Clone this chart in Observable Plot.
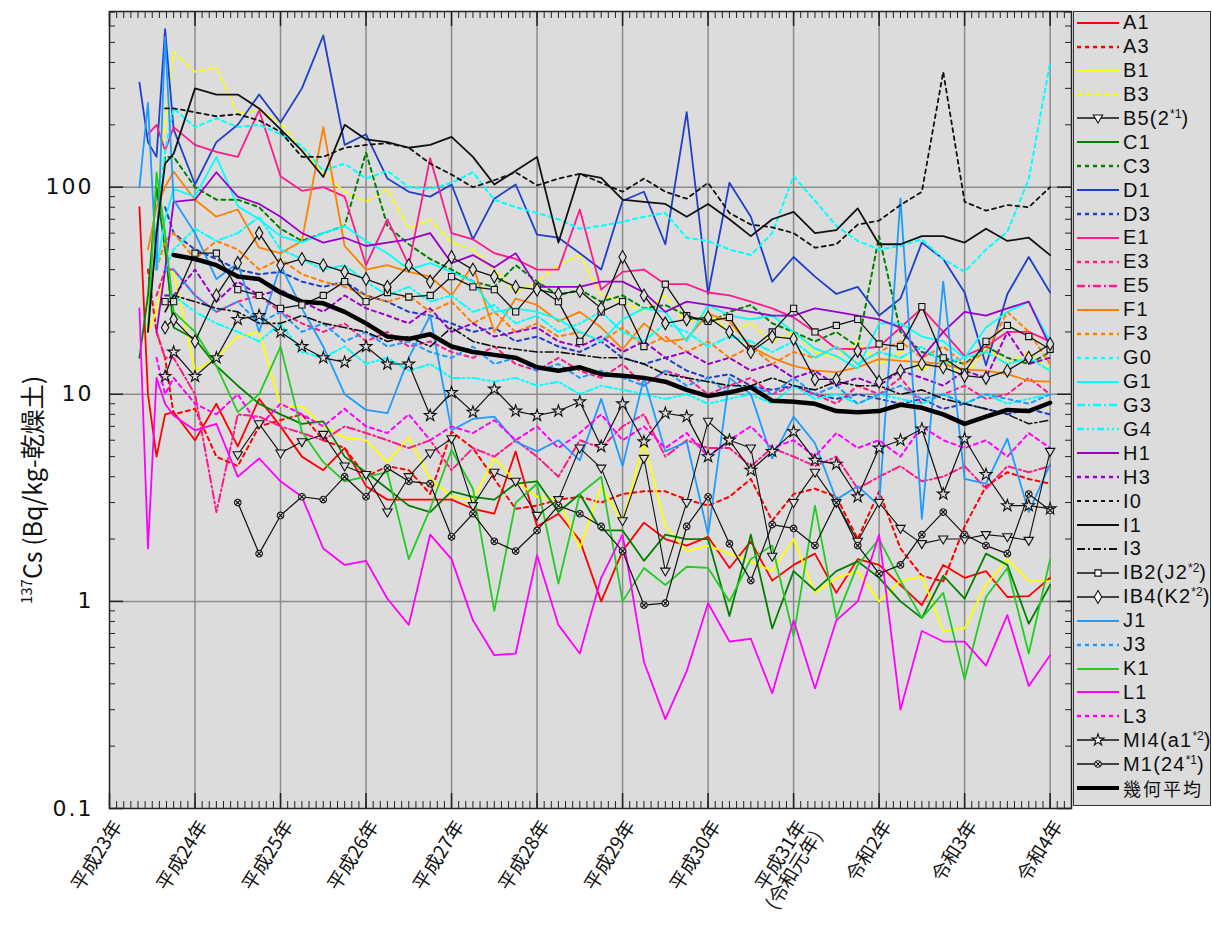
<!DOCTYPE html>
<html><head><meta charset="utf-8">
<script src="https://cdn.jsdelivr.net/npm/d3@7"></script>
<script src="https://cdn.jsdelivr.net/npm/@observablehq/plot@0.6"></script>
<style>
body{margin:0;background:#fff;}
#wrap{position:relative;width:1212px;height:925px;overflow:hidden;}
#chart{position:absolute;left:0;top:0;}
#legend{position:absolute;left:1073px;top:11px;width:138px;height:795px;background:#dcdcdc;border:1px solid #333;box-sizing:border-box;}
.item{position:absolute;left:2px;height:24px;display:flex;align-items:center;font-family:"Liberation Sans",Arial,sans-serif;font-size:20px;letter-spacing:1.2px;color:#111;white-space:nowrap;}
.item svg{margin-right:3px;flex:none;}
.item sup{font-size:12px;letter-spacing:0;vertical-align:7px;line-height:0;}
.item.cjk{font-family:"Noto Sans CJK JP";letter-spacing:2px;font-size:18px;}
</style></head><body>
<div id="wrap"><div id="chart"></div><div id="legend"></div></div>
<script>
// ---- time axis (decimal years) ----
const T = [2011.35,2011.45,2011.55,2011.65,2011.75,2012,2012.25,2012.5,2012.75,2013,2013.25,2013.5,2013.75,2014,2014.25,2014.5,2014.75,2015,2015.25,2015.5,2015.75,2016,2016.25,2016.5,2016.75,2017,2017.25,2017.5,2017.75,2018,2018.25,2018.5,2018.75,2019,2019.25,2019.5,2019.75,2020,2020.25,2020.5,2020.75,2021,2021.25,2021.5,2021.75,2022];
const yearTicks = [2011,2012,2013,2014,2015,2016,2017,2018,2019,2020,2021,2022];
const yearLabels = ["平成23年","平成24年","平成25年","平成26年","平成27年","平成28年","平成29年","平成30年","平成31年\n(令和元年)","令和2年","令和3年","令和4年"];
const yMajor = [0.1,1,10,100];
const yMajorLabels = ["0.1","1","10","100"];

// ---- series values (Bq/kg) ----
const A1 = [80,10,5,8, 8.2,6,9,5.6,9.5,7,5,4.3,5.5,3.6,3.1,3.1,3.1,3.1,2.8,2.65,5.3,2.3,2.65,1.97,1.0,1.75,2.4,2.0,1.86,2.05,1.45,1.95,1.26,1.5,1.7,1.1,1.6,1.5,1.2,0.96,1.5,1.3,1.4,1.05,1.06,1.3];
const A3 = [null,40,20,15, 8,8.5,5,4.5,7,7.5,8,6,5.5,4,4.5,4.3,3.3,6.6,5.5,3.9,2.8,2.9,3.1,3.2,3.0,3.3,3.4,3.4,3.1,2.9,3.2,3.9,2.45,3.3,3.5,3.2,2.0,3.4,1.8,1.33,1.25,2.3,3.6,4.2,3.9,3.7];
const B1 = [null,20,25,40, 39,13,15,19,20,8.8,8.8,7,6.2,6.0,4.7,6.2,3.9,3.2,3.1,4.9,3.8,3.2,3.1,1.8,3.6,2.4,5.9,2.3,1.75,1.86,1.7,1.56,1.4,2.0,1.1,1.3,1.4,1.0,1.26,1.32,0.72,0.74,1.2,1.6,1.26,1.25];
const B3 = [null,null,100,200, 450,360,380,225,235,205,150,118,95,85,98,63,70,54,50,40,31,35,42,47,30,28,25,30,22,25,20,22,18,20,16,15,18,14,16,13,15,12,17,14,16,13];
const B5 = [null,null,null,null, null,null,null, 5.1,7.2,5.2,5.9,6.4,4.5,4.1,2.7,4.0,5.2,6.1,2.9,4.2,3.8,2.6,3.1,5.5,4.4,2.45,4.9,1.4,3.0,7.4,6.0,5.5,1.65,3.0,4.2,3.0,1.95,3.0,2.25,1.9,2.0,2.0,2.1,2.05,1.97,5.3];
const C1 = [15,30,100,50, 21,18.5,13.7,11,9,8,7.2,7.4,5.0,4.2,3.5,2.9,2.7,3.4,3.2,3.1,3.7,3.8,2.7,3.3,2.2,2.2,1.57,2.1,2.0,2.0,0.85,2.1,0.74,1.4,1.13,1.4,1.56,1.3,1.0,0.83,1.33,1.03,1.7,1.5,0.78,1.2];
const C3 = [null,null,60,140, 140,100,87,87,80,63,55,60,65,147,65,53,45,40,35,33,42,35,30,32,28,30,26,27,24,22,25,27,22,20,18,20,17,58,20,16,15,14,17,15,14,16];
const D1 = [320,165,140,580, 190,103,165,200,280,205,300,540,160,180,110,95,90,103,56,88,103,59,57,48,40,86,95,53,230,30.5,105,72,35,46,37,30.5,33,24,29,54,45,31,13.8,30.5,46,31];
const D3 = [null,null,null,80, 60,50,45,40,38,39,35,33,35,30,28,25,24,22,20,21,18,19,17,16,18,15,14,15,13,12,12.5,11,10.5,11,10,9.5,10,9.5,9,9.5,8.5,9,8.5,8,8.5,8];
const E1 = [null,180,200,150, 195,160,148,140,235,113,96,100,90,42,70,42,138,60,56,48,45,40,40,78,32,39,40,34,34,31,30,28,26,23.5,20,16.6,16.5,17,21,26,20,15.3,17,20,20,18];
const E3 = [null,null,30,40, 40,30,25,28,30,25,22,20,22,18,20,17,18,16,15,17,14,13,15,13,12,14,11,13,12,10,11,12,10,11,10,9,11,10,12,9,10,11,9.5,10,12,10];
const E5 = [null,null,20,15, 15,10,2.7,8,7.8,7,6.5,6,7,6.5,6,5.5,6,4.3,5.5,5,6,5,4,6,5.5,7,8,5,6,5.5,5.5,4.5,5.5,5,4.5,5,3.5,4,4.5,3.8,4,4.5,3.5,4.5,4.2,4.5];
const F1 = [null,50,80,100, 119,87,72,78,51,48,55,195,52,40,42,39,37,30,42,20,29,27,22.5,25,21,16.5,22,18,18.5,24.5,22.5,17,15,13.7,13,12.8,13.5,14.8,14.5,14.3,14,13.2,13,12.5,11.6,11.5];
const F3 = [null,null,40,55, 60,45,55,50,40,45,38,35,33,30,28,30,25,28,22,25,20,22,19,20,18,21,17,19,16,18,15,17,14,16,15,17,14,16,18,15,17,14,16,25,20,14];
const G0 = [null,null,60,150, 240,195,215,195,200,180,158,120,130,110,120,100,98,105,118,87,80,75,70,63,65,68,72,75,57,55,50,47,60,113,86,65,55,50,52,56,45,39,50,61,109,400];
const G1 = [null,null,40,70, 98,90,140,81,70,58,54,60,65,55,48,40,43,39,35,25,26,25,23,20,18,23,26,25,18,27,24,23,24,20,16.6,15.3,13.3,22,22,19,18,15,21,25,28,18];
const G3 = [null,null,null,40, 50,63,55,60,72,50,45,40,42,35,30,33,28,30,25,27,22,24,20,22,25,20,18,22,20,17,19,18,16,18,15,17,14,16,15,17,14,15,16,14,15,13];
const G4 = [null,null,null,30, 30,25,22,20,18,22,16,15,17,14,15,13,14,12,12,11.5,12,11,11.5,10,11,10.5,10,9.5,10,9,9.5,10,9,11,9.5,10,9,10,9.5,9,10,9,10,9,9.5,10];
const H1 = [null,null,20,40, 85,87,118,90,83,72,60,54,57,52,54,56,60,43,47,41,48,33,33,33,35,35,31,25,28,27,26,25,24,24,26,25,24,23,21,15,20,25,24,26,28,17];
const H3 = [null,null,null,30, 30,40,28,35,30,32,28,25,30,26,24,22,26,20,22,19,20,21,18,17,19,16,18,15,16,14,15,13,14,12,13,11,12,11,13,12,11,13,12,20,14,15];
const I0 = [null,null,null,240, 240,230,220,225,210,185,140,140,155,160,163,155,130,115,100,108,118,102,110,116,105,95,110,95,88,105,75,66,64,60,51,53,66,69,82,95,360,85,77,82,80,100];
const I1 = [null,20,60,130, 145,300,280,280,240,190,150,112,200,170,165,155,160,175,140,103,120,140,54,116,111,87,85,83,72,83,70,58,70,76,60,62,79,53,53,58,58,54,63,55,57,47];
const I3 = [null,null,null,25, 30,28,26,25,22,22,24,22,21,20,18,19,17,21,18,17,16.5,16,16,15.5,15,15,14,12.5,12,11.5,11,11,12,11,10.5,11.5,11,11,10,10.5,9.5,9,8.5,8,7.2,7.5];
const IB2 = [null,null,null,28, 28,48,48,32,30,26,27,30,35,28,31,29.5,30,37,33,32,25,33,28,18,25,28,17,34,24,22.5,23.5,16.5,20,26,20,21.5,23,17.5,17,26.5,15,12.8,18,21.5,19,16.5];
const IB4 = [null,null,null,21, 23,18,30,43,60,42,45,42,39,36,33,42,35,46,40,37,33,32,30.5,31.5,26,46,30,22,23,23.5,20,16,19,18.5,11.8,11.8,16.2,11.5,13,14,13.5,12.3,12,13,15,17.5];
const J1 = [100,255,40,530, 87,60,36,43,20,42,26,17,10,8.4,8.1,15,24,6.7,7.6,7.8,5.9,5.3,6.0,4.8,9.5,4.5,12,5.3,5.9,2.1,12,10,4.9,7.8,5.8,3.1,3.6,2.9,88,2.5,35,3.9,3.7,6.1,2.7,4.6];
const J3 = [null,null,null,40, 40,30,25,28,22,25,20,22,18,20,17,18,16,15,17,14,15,13,14,12,13,12,11,13,11,12,10,11,10,12,10,11,9,10,11,9.5,10,9,10,9.5,9,10];
const K1 = [null,20,118,60, 25,20,13.7,8.2,10,17,6.6,4.7,3.8,4.0,4.2,1.6,2.8,5.4,3.5,0.9,3.0,3.7,1.22,3.3,4.0,1.0,1.45,1.2,1.47,1.45,1.0,1.6,1.86,0.68,2.9,0.83,1.5,2.0,1.26,0.83,1.1,0.42,1.05,1.45,0.56,1.6];
const L1 = [26,1.8,12,9, 7.9,6.7,7.2,4.0,4.9,3.8,3.2,1.8,1.5,1.57,1.03,0.77,2.1,1.6,0.81,0.55,0.56,1.67,0.77,0.56,1.3,2.1,0.51,0.27,0.46,0.98,0.64,0.66,0.36,0.81,0.38,0.81,1.0,2.1,0.3,0.72,0.64,0.64,0.49,0.86,0.39,0.55];
const L3 = [null,null,15,10, 12,9,8,10,7,9,8,7,8.5,7,6.5,8,6,7,6.5,7.5,6,7,5.5,6.5,8,6,7,5.5,6.5,5,6,7,5.5,6,5,6.5,5.5,6,5,7,6,5.5,6,5,6.5,5.5];
const MI4 = [null,null,null,12.2, 16,12.2,15,23,24,20,17,15,14.3,17,14,14,7.9,10.2,8.2,10.6,8.3,7.9,8.3,9.2,5.6,9.0,5.9,8.1,7.8,5.0,6.0,4.3,5.3,6.6,4.8,4.6,3.2,5.5,6.0,6.8,3.3,6.1,4.1,2.9,2.9,2.8];
const M1 = [null,null,null,null, null,null,null, 3.0,1.7,2.6,3.2,3.1,4.0,3.2,4.4,3.8,3.7,2.05,2.65,1.95,1.75,2.2,2.9,2.65,2.3,1.75,0.96,0.98,2.3,3.2,1.9,1.26,2.35,2.25,1.86,3.0,1.86,1.36,1.5,2.1,2.7,2.1,1.86,1.7,3.3,2.75];
const GM = [null,null,null,null, 47,45,42,37,36,31,28,27.5,25,22,19,18.5,19.5,17,16,15.5,15,13.5,13,13.5,12.5,12.3,12,11.5,10.5,9.8,10.2,10.8,9.3,9.2,9.0,8.3,8.2,8.3,8.9,8.6,8.0,7.2,7.8,8.4,8.3,9.1];

const seriesNames = ["A1","A3","B1","B3","B5","C1","C3","D1","D3","E1","E3","E5","F1","F3","G0","G1","G3","G4","H1","H3","I0","I1","I3","IB2","IB4","J1","J3","K1","L1","L3","MI4","M1","GM"];
const seriesValues = [A1,A3,B1,B3,B5,C1,C3,D1,D3,E1,E3,E5,F1,F3,G0,G1,G3,G4,H1,H3,I0,I1,I3,IB2,IB4,J1,J3,K1,L1,L3,MI4,M1,GM];
const legendLabels = ["A1","A3","B1","B3","B5(2<sup>*1</sup>)","C1","C3","D1","D3","E1","E3","E5","F1","F3","G0","G1","G3","G4","H1","H3","I0","I1","I3","IB2(J2<sup>*2</sup>)","IB4(K2<sup>*2</sup>)","J1","J3","K1","L1","L3","MI4(a1<sup>*2</sup>)","M1(24<sup>*1</sup>)","幾何平均"];

// ---- styles ----
const DOT = "4,4", DASHDOT = "8,3,2,3", DASHDOTDOT = "7,3,2,3,2,3", DASH = "5,4";
const triDown = {draw(ctx, size){ const r = Math.sqrt(size/Math.PI)*1.3; ctx.moveTo(-r,-r*0.65); ctx.lineTo(r,-r*0.65); ctx.lineTo(0,r*1.05); ctx.closePath(); }};
const circX = {draw(ctx, size){ const r = Math.sqrt(size/Math.PI); ctx.moveTo(r,0); ctx.arc(0,0,r,0,2*Math.PI); const a=r*0.7; ctx.moveTo(-a,-a); ctx.lineTo(a,a); ctx.moveTo(-a,a); ctx.lineTo(a,-a); }};
const style = {
  A1:{c:"#ff0000",w:1.8}, A3:{c:"#ff0000",w:2,d:DOT},
  B1:{c:"#ffff00",w:1.8}, B3:{c:"#ffff00",w:1.8,d:DASH},
  B5:{c:"#111",w:1.1,sym:triDown,r:3.6},
  C1:{c:"#008000",w:1.8}, C3:{c:"#008000",w:2,d:DOT},
  D1:{c:"#1f3fc8",w:1.8}, D3:{c:"#1f3fc8",w:2,d:DOT},
  E1:{c:"#ff1a8c",w:1.8}, E3:{c:"#ff1a8c",w:2,d:DOT}, E5:{c:"#ff1a8c",w:2,d:DASHDOT},
  F1:{c:"#ff8000",w:1.8}, F3:{c:"#ff8000",w:2,d:DOT},
  G0:{c:"#00ffff",w:2,d:DOT}, G1:{c:"#00ffff",w:1.8}, G3:{c:"#00ffff",w:2,d:DASHDOT}, G4:{c:"#00ffff",w:2,d:DASHDOTDOT},
  H1:{c:"#9900cc",w:1.8}, H3:{c:"#9900cc",w:2,d:DOT},
  I0:{c:"#111",w:1.8,d:DOT}, I1:{c:"#111",w:1.8}, I3:{c:"#111",w:1.6,d:DASHDOT},
  IB2:{c:"#111",w:1.3,sym:"square",r:3.5}, IB4:{c:"#111",w:1.3,sym:"diamond",r:3.9},
  J1:{c:"#1e9bff",w:1.8}, J3:{c:"#1e9bff",w:2,d:DOT},
  K1:{c:"#22cc22",w:1.8},
  L1:{c:"#ff00ff",w:1.8}, L3:{c:"#ff00ff",w:2,d:DOT},
  MI4:{c:"#111",w:1.2,sym:"star",r:3.7}, M1:{c:"#111",w:1.2,sym:circX,r:3.3},
  GM:{c:"#000",w:4.5}
};

// ---- build rows ----
const rows = {};
seriesNames.forEach((n, si) => {
  rows[n] = T.map((t, i) => ({name: n, t, v: seriesValues[si][i]})).filter(d => d.v != null);
});

const monthTicks = d3.range(0, 136).map(i => 2011 + i/12).filter(v => v <= 2022.26);
const yMinor = [];
[0.1,1,10,100].forEach(b => { for (let k = 2; k <= 9; k++) if (b*k < 710) yMinor.push(b*k); });

const W = 1072, H = 925, ML = 109, MR = 1, MT = 11, MB = 117;
const FW = W - ML - MR, FH = H - MT - MB;

const drawOrder = ["A1","A3","B1","B3","C1","C3","D1","D3","E1","E3","E5","F1","F3","G0","G1","G3","G4","H1","H3","J1","J3","K1","L1","L3","I0","I1","I3","B5","IB2","IB4","MI4","M1","GM"];
const lineMarks = [];
drawOrder.forEach(n => {
  const s = style[n];
  lineMarks.push(Plot.line(rows[n], {x:"t", y:"v", stroke:s.c, strokeWidth:s.w, strokeDasharray:s.d, clip:true}));
});
drawOrder.forEach(n => {
  const s = style[n];
  if (s.sym) lineMarks.push(Plot.dot(rows[n], {x:"t", y:"v", symbol:s.sym, r:s.r, stroke:"#111", strokeWidth:1.1, fill:"#dcdcdc"}));
});

const chart = Plot.plot({
  width: W, height: H,
  marginLeft: ML, marginRight: MR, marginTop: MT, marginBottom: MB,
  style: {background: "transparent", overflow: "visible"},
  x: {type: "linear", domain: [2011, 2022.25], axis: null},
  y: {type: "log", domain: [0.1, 705]},
  marks: [
    Plot.frame({fill: "#dcdcdc"}),
    Plot.ruleX(yearTicks.slice(1), {stroke: "#8c8c8c", strokeWidth: 1.5}),
    Plot.ruleY([1, 10, 100], {stroke: "#8c8c8c", strokeWidth: 1.5}),
    Plot.tickX(monthTicks, {x: d => d, insetTop: FH - 7, stroke: "#222", strokeWidth: 1}),
    Plot.tickX(monthTicks, {x: d => d, insetBottom: FH - 7, stroke: "#222", strokeWidth: 1}),
    Plot.tickX(yearTicks, {x: d => d, insetTop: FH - 15, stroke: "#222", strokeWidth: 1.5}),
    Plot.tickX(yearTicks, {x: d => d, insetBottom: FH - 15, stroke: "#222", strokeWidth: 1.5}),
    Plot.tickY(yMinor, {y: d => d, insetRight: FW - 6, stroke: "#222"}),
    Plot.tickY(yMinor, {y: d => d, insetLeft: FW - 6, stroke: "#222"}),
    Plot.tickY(yMajor, {y: d => d, insetRight: FW - 14, stroke: "#222", strokeWidth: 1.5}),
    Plot.tickY(yMajor, {y: d => d, insetLeft: FW - 14, stroke: "#222", strokeWidth: 1.5}),
    ...lineMarks,
    Plot.axisY(yMajor, {anchor: "left", tickSize: 0, tickPadding: 16, tickFormat: (d) => yMajorLabels[yMajor.indexOf(d)], fontSize: 22, fontFamily: "DejaVu Sans", fill: "#111", label: null}),
    Plot.text(yearLabels, {x: (d, i) => yearTicks[i], text: d => d, frameAnchor: "bottom", rotate: -58, textAnchor: "end", lineAnchor: "top", dx: 2, dy: 10, fontSize: 19, fontFamily: "Noto Sans CJK JP", fill: "#111"}),
    Plot.frame({stroke: "#222", strokeWidth: 1.5})
  ]
});
document.getElementById("chart").appendChild(chart);

const svg = d3.select(chart);
svg.selectAll('[aria-label="y-axis tick label"] text').attr("letter-spacing", "2px");

// y-axis title
const yt = svg.append("text")
  .attr("transform", "translate(42,490) rotate(-90)")
  .attr("text-anchor", "middle")
  .attr("font-family", "Noto Sans CJK JP")
  .attr("font-size", 25).attr("fill", "#111");
yt.append("tspan").attr("font-size", 15).attr("dy", -10).text("137");
yt.append("tspan").attr("dy", 10).text("Cs (Bq/kg-乾燥土)");

// legend
const legend = document.getElementById("legend");
seriesNames.forEach((n, i) => {
  const s = style[n];
  const div = document.createElement("div");
  div.className = "item" + (n === "GM" ? " cjk" : "");
  div.style.top = (11.7 + i * 23.92 - 12 - 1) + "px";
  let sw = `<svg width="44" height="24"><line x1="1" x2="43" y1="12" y2="12" stroke="${s.c}" stroke-width="${n==="GM"?4:s.w+0.3}" ${s.d ? `stroke-dasharray="${s.d}"` : ""}/>`;
  if (s.sym) {
    const type = typeof s.sym === "string" ? {square: d3.symbolSquare, diamond: d3.symbolDiamond, star: d3.symbolStar}[s.sym] : s.sym;
    const p = d3.symbol().type(type).size(Math.PI * s.r * s.r)();
    sw += `<path transform="translate(22,12)" d="${p}" fill="#fff" stroke="#111" stroke-width="1.1"/>`;
  }
  sw += `</svg>`;
  div.innerHTML = sw + `<span>${legendLabels[i]}</span>`;
  legend.appendChild(div);
});
</script>
</body></html>
